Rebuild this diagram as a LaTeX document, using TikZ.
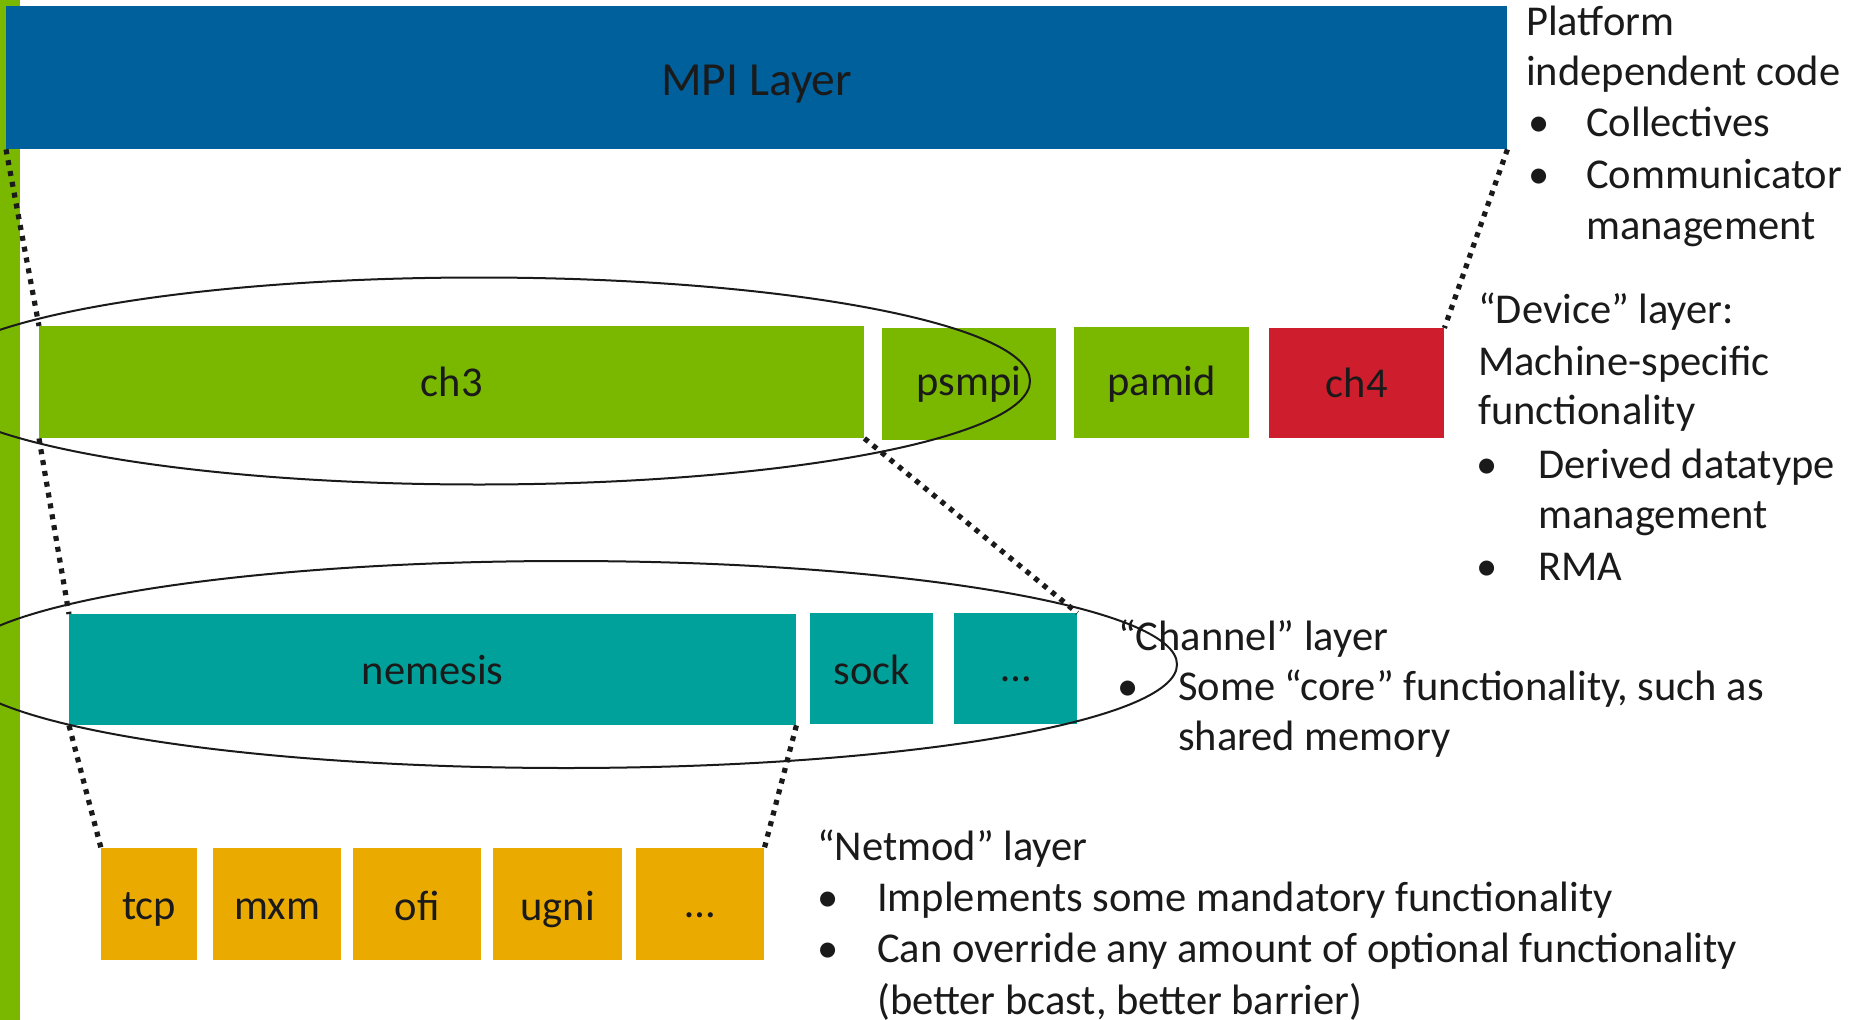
\documentclass[tikz,border=0pt]{standalone}
\usepackage{fontspec}
\setmainfont{Carlito}
\definecolor{mpiblue}{RGB}{0,96,156}
\definecolor{devgreen}{RGB}{122,184,0}
\definecolor{chteal}{RGB}{0,161,154}
\definecolor{nmorange}{RGB}{234,170,0}
\definecolor{ch4red}{RGB}{206,30,46}
\definecolor{ink}{RGB}{26,26,26}
\newcommand{\lowered}[2]{\raisebox{-#1pt}[\height][\depth]{#2}}
\begin{document}
\begin{tikzpicture}[x=1pt,y=-1pt,
  box/.style={draw=none, inner sep=0pt, anchor=north west, text=ink,
    font=\fontsize{42.5}{51}\selectfont},
  txt/.style={inner sep=0pt, anchor=base west, text=ink,
    font=\fontsize{42.5}{51}\selectfont},
  dotline/.style={draw=ink, line width=5.2pt, dash pattern=on 5pt off 6pt},
  ring/.style={draw=ink, line width=2pt}]
\useasboundingbox (0,0) rectangle (1853,1020);
\clip (0,0) rectangle (1853,1020);
\fill[white] (0,0) rectangle (1853,1020);
% left green bar
\fill[devgreen] (0,0) rectangle (20,1020);
% MPI layer
\node[box, fill=mpiblue, minimum width=1501pt, minimum height=143pt,
  font=\fontsize{47.5}{56}\selectfont] (mpi) at (6,6) {\lowered{6}{MPI Layer}};
% device row
\node[box, fill=devgreen, minimum width=825pt, minimum height=112pt] (ch3) at (39,326) {ch3};
\node[box, fill=devgreen, minimum width=174pt, minimum height=112pt] (psmpi) at (882,328) {psmpi};
\node[box, fill=devgreen, minimum width=175pt, minimum height=111pt] (pamid) at (1074,327) {\lowered{1}{pamid}};
\node[box, fill=ch4red, minimum width=175pt, minimum height=110pt] (ch4) at (1269,328) {ch4};
% channel row
\node[box, fill=chteal, minimum width=727pt, minimum height=111pt] (nemesis) at (69,614) {nemesis};
\node[box, fill=chteal, minimum width=123pt, minimum height=111pt] (sock) at (810,613) {\lowered{1}{sock}};
\node[box, fill=chteal, minimum width=123pt, minimum height=111pt] (cdots) at (954,613) {\lowered{11}{…}};
% netmod row
\node[box, fill=nmorange, minimum width=96pt, minimum height=112pt] (tcp) at (101,848) {\lowered{5}{tcp}};
\node[box, fill=nmorange, minimum width=128pt, minimum height=112pt] (mxm) at (213,848) {\lowered{5}{mxm}};
\node[box, fill=nmorange, minimum width=128pt, minimum height=112pt] (ofi) at (353,848) {\lowered{2}{ofi}};
\node[box, fill=nmorange, minimum width=129pt, minimum height=112pt] (ugni) at (493,848) {\lowered{5}{ugni}};
\node[box, fill=nmorange, minimum width=128pt, minimum height=112pt] (ndots) at (636,848) {\lowered{11}{…}};
% dotted connectors
\draw[dotline] (mpi.south west) -- (ch3.north west);
\draw[dotline] (mpi.south east) -- (ch4.north east);
\draw[dotline] (ch3.south west) -- (nemesis.north west);
\draw[dotline] (ch3.south east) -- (cdots.north east);
\draw[dotline] (nemesis.south west) -- (tcp.north west);
\draw[dotline] (nemesis.south east) -- (ndots.north east);
% right-side texts
\node[txt] (t1) at (1526,35) {Platform};
\node[txt] (t2) at (1526,85) {independent code};
\node[txt] (t3b) at (1528,136) {•};
\node[txt] (t3) at (1586,136) {Collectives};
\node[txt] (t4b) at (1528,188) {•};
\node[txt] (t4) at (1586,188) {Communicator};
\node[txt] (t5) at (1586,239) {management};
\node[txt] (d1) at (1478,323) {“Device” layer:};
\node[txt] (d2) at (1478,375) {Machine-specific};
\node[txt] (d3) at (1478,424) {functionality};
\node[txt] (d4b) at (1476,478) {•};
\node[txt] (d4) at (1538,478) {Derived datatype};
\node[txt] (d5) at (1538,528) {management};
\node[txt] (d6b) at (1476,580) {•};
\node[txt] (d6) at (1538,580) {RMA};
\node[txt] (c1) at (1118,650) {“Channel” layer};
\node[txt] (c2b) at (1117,700) {•};
\node[txt] (c2) at (1178,700) {Some “core” functionality, such as};
\node[txt] (c3) at (1178,750) {shared memory};
\node[txt] (n1) at (817,860) {“Netmod” layer};
\node[txt] (n2b) at (817,911) {•};
\node[txt] (n2) at (877,911) {Implements some mandatory functionality};
\node[txt] (n3b) at (817,962) {•};
\node[txt] (n3) at (877,962) {Can override any amount of optional functionality};
\node[txt] (n4) at (877,1014) {(better bcast, better barrier)};
% ellipses
\draw[ring] (479,381) ellipse [x radius=551pt, y radius=103.5pt];
\draw[ring] (566,664.5) ellipse [x radius=611pt, y radius=103.5pt];
\end{tikzpicture}
\end{document}
